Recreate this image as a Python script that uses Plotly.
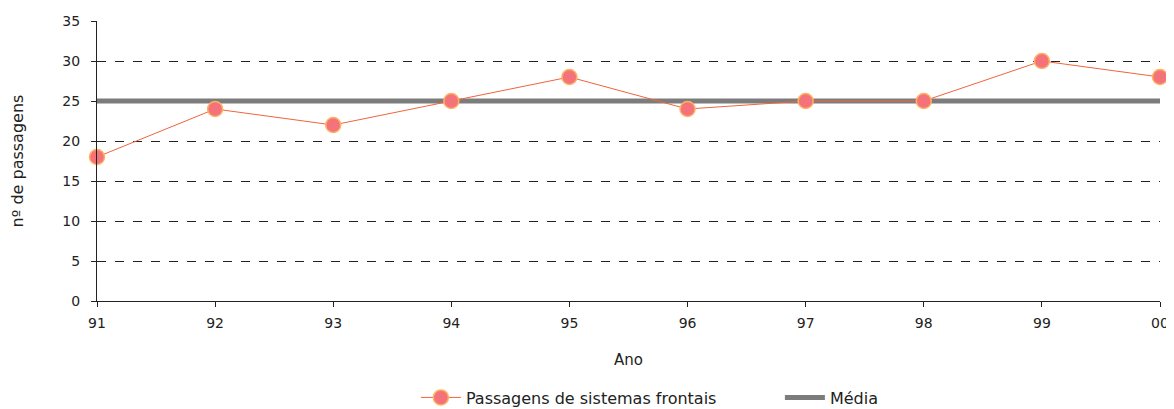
import plotly.graph_objects as go

anos = ["91", "92", "93", "94", "95", "96", "97", "98", "99", "00"]
passagens = [18, 24, 22, 25, 28, 24, 25, 25, 30, 28]
media = [25] * len(anos)
y_ticks = [0, 5, 10, 15, 20, 25, 30, 35]

xpos = list(range(len(anos)))

fig = go.Figure()
fig.add_trace(go.Scatter(
    x=xpos, y=media, mode="lines", name="Média",
    line=dict(color="#7c7c7c", width=5),
    cliponaxis=False,
))
fig.add_trace(go.Scatter(
    x=xpos, y=passagens, mode="lines+markers",
    name="Passagens de sistemas frontais",
    line=dict(color="#f0643c", width=1),
    marker=dict(size=15, color="#f4727a", line=dict(color="#ffb060", width=1.5)),
    cliponaxis=False,
))

font = "DejaVu Sans, sans-serif"
fig.update_layout(
    width=1174, height=409,
    margin=dict(l=89, r=22, t=13, b=116, autoexpand=False),
    paper_bgcolor="white", plot_bgcolor="white",
    font=dict(family=font, size=14, color="#222"),
    showlegend=True,
    legend=dict(orientation="h", x=0.3, xanchor="left", y=-0.284, yanchor="top",
                traceorder="reversed", font=dict(size=16), itemwidth=40,
                entrywidth=309, entrywidthmode="pixels",
                tracegroupgap=0),
    xaxis=dict(
        range=[0, 9], tickmode="array", tickvals=xpos, ticktext=anos,
        showline=True, linecolor="#222", linewidth=1,
        ticks="outside", ticklen=5, tickcolor="#222", ticklabelstandoff=4,
        showgrid=False, zeroline=False, automargin=False,
        title=dict(text="Ano", font=dict(size=15), standoff=24),
    ),
    yaxis=dict(
        range=[0, 35], tickvals=y_ticks,
        showline=True, linecolor="#222", linewidth=1,
        ticks="outside", ticklen=5, tickcolor="#222", ticklabelstandoff=8,
        showgrid=True, gridcolor="#222", griddash="dash", gridwidth=1.2,
        zeroline=False, automargin=False,
        title=dict(text="nº de passagens", font=dict(size=16), standoff=34),
    ),
)
fig.write_html("out.html")
